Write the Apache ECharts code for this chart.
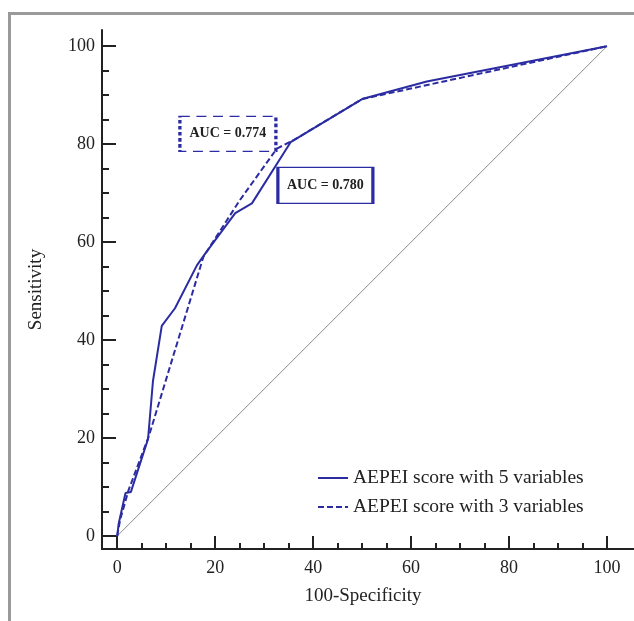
<!DOCTYPE html>
<html>
<head>
<meta charset="utf-8">
<script src="https://cdn.jsdelivr.net/npm/echarts@6/dist/echarts.min.js"></script>
<style>
    body { margin: 0; background: #fff; }
    #rocChart { width: 634px; height: 621px; }
</style>
</head>
<body>
<div id="rocChart"></div>
<script>
// ROC points (100-Specificity, Sensitivity)
const fpr5 = [0, 0.3, 1.7, 2.8, 6.3, 7.3, 9.1, 11.8, 16.3, 18, 24.1, 27.5, 35.4, 50, 63.2, 100];
const tpr5 = [0, 2.5, 8.8, 9.0, 19.8, 31.6, 42.9, 46.5, 55.3, 57.7, 65.9, 67.9, 80.4, 89.2, 92.8, 100];
const fpr3 = [0, 0.6, 2.3, 6.5, 17.6, 25, 32.6, 36, 50, 100];
const tpr3 = [0, 3.3, 9.3, 20.5, 57, 68.5, 79.1, 80.8, 89.2, 100];
const diagonal = [0, 100];

const seriesNames = ['AEPEI score with 5 variables', 'AEPEI score with 3 variables'];
const aucLabels = ['AUC = 0.780', 'AUC = 0.774'];
// where the AUC boxes sit, in data units
const aucPos5 = [42.5, 71.6];
const aucPos3 = [22.6, 82.1];

const majorTicks = [0, 20, 40, 60, 80, 100];
const minorTicks = [0, 5, 10, 15, 20, 25, 30, 35, 40, 45, 50, 55, 60, 65, 70, 75, 80, 85, 90, 95, 100];

const BLUE = '#2c2ca2';
const FONT = '"Liberation Serif", "Times New Roman", serif';

function renderRocChart() {
    const chart = echarts.init(document.getElementById('rocChart'));

    const pairs = (xs, ys) => xs.map((x, i) => [x, ys[i]]);

    const baseX = {
        type: 'value',
        min: -3.1,
        max: 105.5,
        position: 'bottom',
        splitLine: { show: false },
        axisLine: { onZero: false, lineStyle: { color: '#222', width: 2 } }
    };
    const baseY = {
        type: 'value',
        min: -2.65,
        max: 103.3,
        position: 'left',
        splitLine: { show: false },
        axisLine: { onZero: false, lineStyle: { color: '#222', width: 2 } }
    };

    const option = {
        animation: false,
        graphic: [
            {
                type: 'polyline',
                shape: { points: [[9.5, 621], [9.5, 13.5], [634, 13.5]] },
                style: { stroke: '#9a9a9a', lineWidth: 3, fill: null },
                silent: true
            }
        ],
        legend: {
            orient: 'vertical',
            left: 312,
            top: 463,
            itemWidth: 30,
            itemHeight: 14,
            itemGap: 9,
            data: seriesNames,
            itemStyle: { opacity: 0 },
            textStyle: { fontFamily: FONT, fontSize: 19.5, color: '#222' }
        },
        grid: {
            left: 102,
            top: 30,
            width: 532,
            height: 519
        },
        xAxis: [
            Object.assign({}, baseX, {
                name: '100-Specificity',
                nameLocation: 'middle',
                nameGap: 38,
                nameTextStyle: { fontFamily: FONT, fontSize: 19, color: '#222', padding: [0, 10, 0, 0] },
                axisTick: { inside: true, length: 6, customValues: minorTicks, lineStyle: { color: '#222', width: 2 } },
                axisLabel: { customValues: majorTicks, margin: 10, fontFamily: FONT, fontSize: 18, color: '#222' }
            }),
            Object.assign({}, baseX, {
                axisLine: { show: false, onZero: false },
                axisTick: { inside: true, length: 13, customValues: majorTicks, lineStyle: { color: '#222', width: 2 } },
                axisLabel: { show: false }
            })
        ],
        yAxis: [
            Object.assign({}, baseY, {
                name: 'Sensitivity',
                nameLocation: 'middle',
                nameGap: 56,
                nameTextStyle: { fontFamily: FONT, fontSize: 19, color: '#222' },
                axisTick: { inside: true, length: 7, customValues: minorTicks, lineStyle: { color: '#222', width: 2 } },
                axisLabel: { customValues: majorTicks, margin: 7, fontFamily: FONT, fontSize: 18, color: '#222' }
            }),
            Object.assign({}, baseY, {
                axisLine: { show: false, onZero: false },
                axisTick: { inside: true, length: 14, customValues: majorTicks, lineStyle: { color: '#222', width: 2 } },
                axisLabel: { show: false }
            })
        ],
        series: [
            {
                name: 'diagonal',
                type: 'line',
                data: pairs(diagonal, diagonal),
                symbol: 'none',
                silent: true,
                lineStyle: { color: '#8a8a8a', width: 1 }
            },
            {
                name: seriesNames[0],
                type: 'line',
                data: pairs(fpr5, tpr5),
                symbol: 'none',
                color: BLUE,
                lineStyle: { color: BLUE, width: 2 },
                markPoint: {
                    silent: true,
                    symbol: 'rect',
                    symbolSize: [95, 36],
                    itemStyle: { color: '#fff', borderColor: BLUE, borderWidth: 2 },
                    label: {
                        show: true,
                        position: 'inside',
                        formatter: aucLabels[0],
                        fontFamily: FONT,
                        fontWeight: 'bold',
                        fontSize: 14,
                        color: '#222'
                    },
                    data: [{ coord: aucPos5 }]
                }
            },
            {
                name: seriesNames[1],
                type: 'line',
                data: pairs(fpr3, tpr3),
                symbol: 'none',
                color: BLUE,
                lineStyle: { color: BLUE, width: 2, type: [6, 3] },
                markPoint: {
                    silent: true,
                    symbol: 'rect',
                    symbolSize: [96, 35],
                    itemStyle: { color: '#fff', borderColor: BLUE, borderWidth: 2, borderType: [6, 4] },
                    label: {
                        show: true,
                        position: 'inside',
                        formatter: aucLabels[1],
                        fontFamily: FONT,
                        fontWeight: 'bold',
                        fontSize: 14,
                        color: '#222'
                    },
                    data: [{ coord: aucPos3 }]
                }
            }
        ]
    };

    chart.setOption(option);
}

document.addEventListener('DOMContentLoaded', renderRocChart);
</script>
</body>
</html>
